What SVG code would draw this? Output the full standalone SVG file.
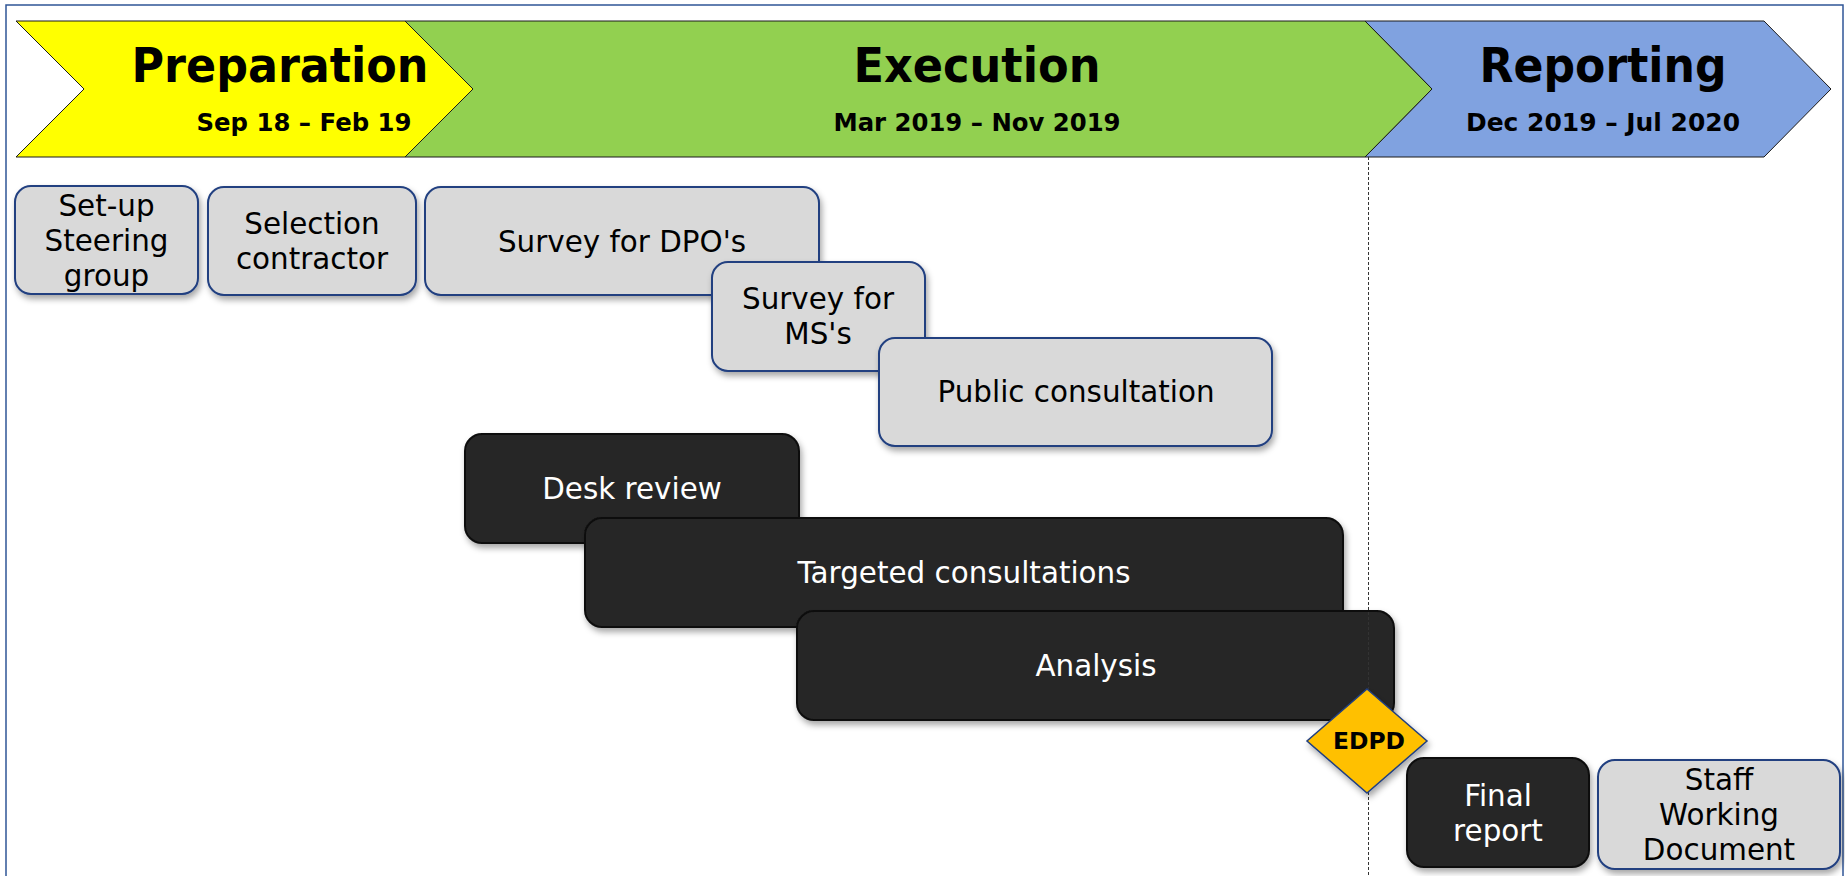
<svg xmlns="http://www.w3.org/2000/svg" width="1845" height="876" viewBox="0 0 1845 876">
<defs>
<filter id="sh" x="-10%" y="-10%" width="130%" height="140%">
<feDropShadow dx="2" dy="4" stdDeviation="3" flood-color="#000" flood-opacity="0.35"/>
</filter>
<style>
.chev{stroke:#1a1a1a;stroke-width:1}
.title{font-family:"DejaVu Sans",Verdana,sans-serif;font-weight:bold;font-size:48px;fill:#000;text-anchor:middle}
.sub{font-family:"DejaVu Sans",Verdana,sans-serif;font-weight:bold;font-size:24.5px;fill:#000;text-anchor:middle}
.lbox{fill:#D9D9D9;stroke:#203F80;stroke-width:2;filter:url(#sh)}
.dbox{fill:#262626;stroke:#0D0D0D;stroke-width:2;filter:url(#sh)}
.lt{font-family:"DejaVu Sans",Verdana,sans-serif;font-size:29.4px;fill:#000;text-anchor:middle}
.dt{font-family:"DejaVu Sans",Verdana,sans-serif;font-size:29.4px;fill:#fff;text-anchor:middle}
.ms{font-family:"DejaVu Sans",Verdana,sans-serif;font-weight:bold;font-size:23.5px;fill:#000;text-anchor:middle}
</style>
</defs>
<rect x="6" y="5" width="1837" height="880" fill="#fff" stroke="#2F5597" stroke-width="1.5"/>

<g id="phase-reporting">
<path class="chev" d="M1365,21 L1764,21 L1831,89 L1764,157 L1365,157 L1432,89 Z" fill="#80A2E0"/>
<text class="title" x="1603" y="82" textLength="247" lengthAdjust="spacingAndGlyphs">Reporting</text>
<text class="sub" x="1603" y="131" textLength="274" lengthAdjust="spacingAndGlyphs">Dec 2019 – Jul 2020</text>
</g>
<g id="phase-execution">
<path class="chev" d="M405,21 L1365,21 L1432,89 L1365,157 L405,157 L473,89 Z" fill="#92D050"/>
<text class="title" x="977" y="82" textLength="247" lengthAdjust="spacingAndGlyphs">Execution</text>
<text class="sub" x="977" y="131" textLength="287" lengthAdjust="spacingAndGlyphs">Mar 2019 – Nov 2019</text>
</g>
<g id="phase-preparation">
<path class="chev" d="M16,21 L405,21 L473,89 L405,157 L16,157 L84,89 Z" fill="#FFFF00"/>
<text class="title" x="280" y="82" textLength="297" lengthAdjust="spacingAndGlyphs">Preparation</text>
<text class="sub" x="304" y="131" textLength="215" lengthAdjust="spacingAndGlyphs">Sep 18 – Feb 19</text>
</g>

<g id="setup-steering-group">
<rect class="lbox" x="15" y="186" width="183" height="108" rx="16"/>
<text class="lt" x="106.5" y="216">Set-up</text>
<text class="lt" x="106.5" y="251">Steering</text>
<text class="lt" x="106.5" y="286">group</text>
</g>
<g id="selection-contractor">
<rect class="lbox" x="208" y="187" width="208" height="108" rx="16"/>
<text class="lt" x="312" y="234">Selection</text>
<text class="lt" x="312" y="269">contractor</text>
</g>
<g id="survey-dpo">
<rect class="lbox" x="425" y="187" width="394" height="108" rx="16"/>
<text class="lt" x="622" y="252">Survey for DPO's</text>
</g>
<g id="survey-ms">
<rect class="lbox" x="712" y="262" width="213" height="109" rx="16"/>
<text class="lt" x="818" y="309">Survey for</text>
<text class="lt" x="818" y="344">MS's</text>
</g>
<g id="public-consultation">
<rect class="lbox" x="879" y="338" width="393" height="108" rx="16"/>
<text class="lt" x="1076" y="402">Public consultation</text>
</g>

<g id="desk-review">
<rect class="dbox" x="465" y="434" width="334" height="109" rx="17"/>
<text class="dt" x="632" y="499">Desk review</text>
</g>
<g id="targeted-consultations">
<rect class="dbox" x="585" y="518" width="758" height="109" rx="17"/>
<text class="dt" x="964" y="583">Targeted consultations</text>
</g>
<g id="analysis">
<rect class="dbox" x="797" y="611" width="597" height="109" rx="17"/>
<text class="dt" x="1096" y="676">Analysis</text>
</g>

<g id="connectors">
<line x1="1368.5" y1="157" x2="1368.5" y2="876" stroke="#333" stroke-width="1" stroke-dasharray="3,2"/>
</g>

<g id="edpd">
<path d="M1367,689 L1427,741 L1367,793 L1307,741 Z" fill="#FFC000" stroke="#203F80" stroke-width="1.5" filter="url(#sh)"/>
<text class="ms" x="1369" y="749" textLength="72" lengthAdjust="spacingAndGlyphs">EDPD</text>
</g>

<g id="final-report">
<rect class="dbox" x="1407" y="758" width="182" height="109" rx="17"/>
<text class="dt" x="1498" y="806">Final</text>
<text class="dt" x="1498" y="841">report</text>
</g>
<g id="staff-working-document">
<rect class="lbox" x="1598" y="760" width="242" height="109" rx="17"/>
<text class="lt" x="1719" y="790">Staff</text>
<text class="lt" x="1719" y="825">Working</text>
<text class="lt" x="1719" y="860">Document</text>
</g>
</svg>
